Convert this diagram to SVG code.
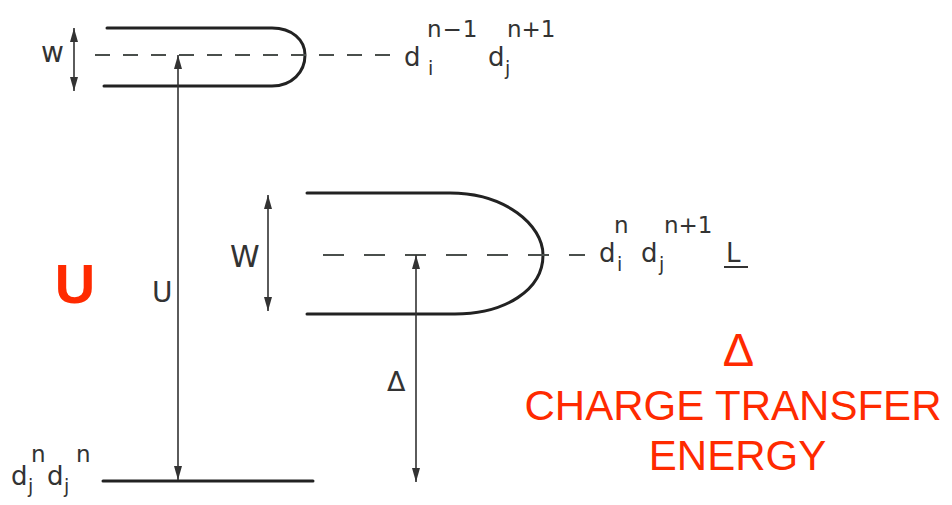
<svg xmlns="http://www.w3.org/2000/svg" width="952" height="505" viewBox="0 0 952 505">
<style>
.band{fill:none;stroke:#222;stroke-width:3;stroke-linecap:round}
.dash{fill:none;stroke:#4a4f4c;stroke-width:2}
.arr{fill:none;stroke:#333;stroke-width:1.6}
.lbl{font-family:"DejaVu Sans",sans-serif;fill:#333}
.big{font-size:26px}
.sup{font-size:23px}
.sub{font-size:19px}
.red{font-family:"Liberation Sans",Arial,sans-serif;fill:#ff2a00}
</style>
<defs>
<marker id="ah" viewBox="0 0 14 9" refX="14" refY="4.5" markerWidth="14" markerHeight="9" markerUnits="userSpaceOnUse" orient="auto-start-reverse">
<path d="M0,0.5 L14,4.5 L0,8.5 Z" fill="#333"/>
</marker>
</defs>
<rect width="952" height="505" fill="#fff"/>

<g id="upper-band">
<path class="band" d="M107,28 H272 C292,28 305,40 305,55 C305,72 292,86 272,86 H104"/>
<line class="dash" x1="95" y1="55" x2="390" y2="55" stroke-dasharray="15 13"/>
<text class="lbl" x="41" y="62" font-size="28">w</text>
<g id="upper-label">
<text class="lbl big" x="404" y="66">d</text>
<text class="lbl sub" x="428" y="75">i</text>
<text class="lbl sup" x="427" y="37" letter-spacing="1">n−1</text>
<text class="lbl big" x="488" y="66">d</text>
<text class="lbl sub" x="505" y="75">j</text>
<text class="lbl sup" x="507" y="37">n+1</text>
</g>
</g>

<g id="lower-band">
<path class="band" d="M307,193 H450 C505,193 543,225 543,255 C543,290 505,314 455,314 H307"/>
<line class="dash" x1="323" y1="255" x2="585" y2="255" stroke-dasharray="21 20"/>
<text class="lbl" x="230" y="267" font-size="30">W</text>
<g id="lower-label">
<text class="lbl big" x="599" y="262">d</text>
<text class="lbl sub" x="617" y="271">i</text>
<text class="lbl sup" x="614" y="233">n</text>
<text class="lbl big" x="641" y="262">d</text>
<text class="lbl sub" x="659" y="271">j</text>
<text class="lbl sup" x="664" y="233">n+1</text>
<text class="lbl big" x="726" y="262">L</text>
<line x1="724" y1="267" x2="748" y2="267" stroke="#333" stroke-width="2"/>
</g>
</g>

<g id="ground-level">
<line class="band" x1="103" y1="481" x2="313" y2="481"/>
<g id="ground-label">
<text class="lbl big" x="11" y="485">d</text>
<text class="lbl sub" x="28" y="493">j</text>
<text class="lbl sup" x="31" y="462">n</text>
<text class="lbl big" x="47" y="485">d</text>
<text class="lbl sub" x="64" y="493">j</text>
<text class="lbl sup" x="76" y="462">n</text>
</g>
</g>

<g id="connectors">
<line class="arr" x1="74" y1="28" x2="74" y2="91" marker-start="url(#ah)" marker-end="url(#ah)"/>
<line class="arr" x1="268" y1="195" x2="268" y2="311" marker-start="url(#ah)" marker-end="url(#ah)"/>
<line class="arr" x1="178" y1="55" x2="178" y2="480" marker-start="url(#ah)" marker-end="url(#ah)"/>
<line class="arr" x1="416" y1="255" x2="416" y2="482" marker-start="url(#ah)" marker-end="url(#ah)"/>
</g>

<g id="arrow-labels">
<text class="lbl" x="152" y="302" font-size="28">U</text>
<text class="lbl" x="387" y="391" font-size="27">Δ</text>
</g>

<g id="annotations">
<text class="red" x="75" y="303" font-size="56" font-weight="bold" text-anchor="middle">U</text>
<text class="red" x="738.5" y="366" font-size="47" text-anchor="middle">Δ</text>
<text class="red" x="733" y="420" font-size="42" text-anchor="middle">CHARGE TRANSFER</text>
<text class="red" x="737.5" y="470" font-size="42" text-anchor="middle">ENERGY</text>
</g>
</svg>
